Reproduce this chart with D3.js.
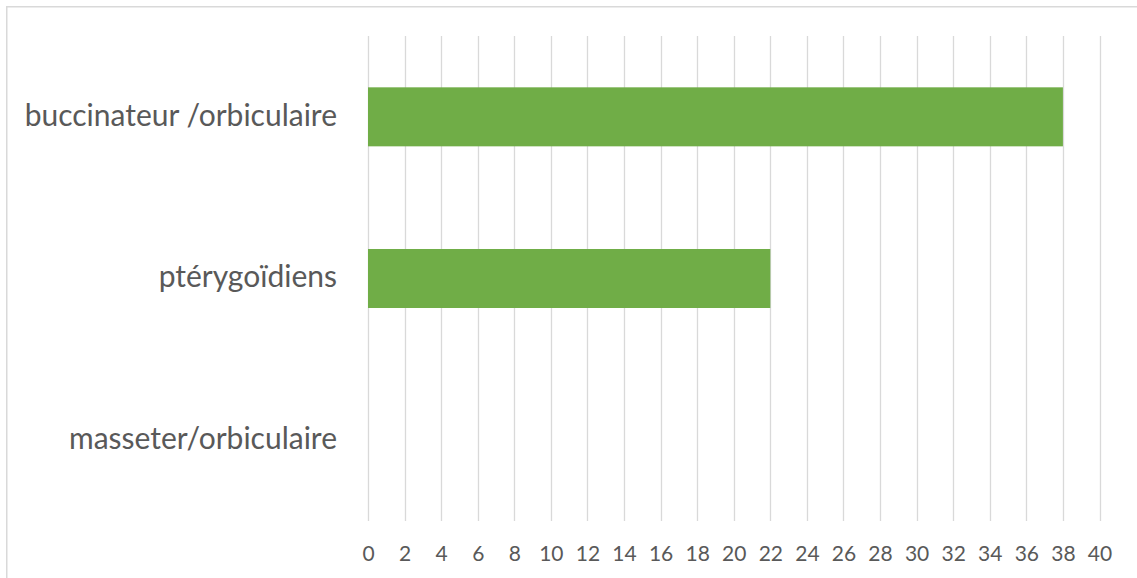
<!DOCTYPE html>
<html>
<head>
<meta charset="utf-8">
<script src="https://cdn.jsdelivr.net/npm/d3@7"></script>
<style>
  html, body { margin: 0; padding: 0; background: #fff; }
  svg { display: block; }
</style>
</head>
<body>
<svg id="chart" width="1137" height="578"></svg>
<script>
const categories = ["buccinateur /orbiculaire", "ptérygoïdiens", "masseter/orbiculaire"];
const values = [38, 22, 0];
const xTicks = [0, 2, 4, 6, 8, 10, 12, 14, 16, 18, 20, 22, 24, 26, 28, 30, 32, 34, 36, 38, 40];

(function () {
const svg = d3.select("#chart");
const W = 1137, H = 578;
const plotLeft = 368, plotRight = 1099.5, plotTop = 36, plotBottom = 521;
const textColor = "#595959";
const gridColor = "#d9d9d9";
const fontFam = "Lato, 'Open Sans', sans-serif";

// outer border
svg.append("rect")
  .attr("x", 6.75).attr("y", 6.75)
  .attr("width", W + 20).attr("height", H + 20)
  .attr("fill", "#fff")
  .attr("stroke", gridColor)
  .attr("stroke-width", 1.5);

const x = d3.scaleLinear().domain([0, 40]).range([plotLeft, plotRight]);
const y = d3.scaleBand().domain(categories).range([plotTop, plotBottom])
  .paddingInner(0.635).paddingOuter(0.635 / 2);

// gridlines
svg.append("g").selectAll("line").data(xTicks).join("line")
  .attr("x1", d => Math.round(x(d)) + 0.5).attr("x2", d => Math.round(x(d)) + 0.5)
  .attr("y1", plotTop).attr("y2", plotBottom)
  .attr("stroke", gridColor).attr("stroke-width", 1.3);

// bars
svg.append("g").selectAll("rect").data(categories).join("rect")
  .attr("x", x(0))
  .attr("y", d => y(d))
  .attr("width", (d, i) => x(values[i]) - x(0))
  .attr("height", y.bandwidth())
  .attr("fill", "#70AD47");

// x tick labels via axis
const xAxis = d3.axisBottom(x).tickValues(xTicks).tickSize(0).tickPadding(0).tickFormat(d3.format("d"));
const gx = svg.append("g").attr("transform", "translate(0, 545)").call(xAxis);
gx.select(".domain").remove();
gx.selectAll(".tick text")
  .attr("fill", textColor)
  .attr("font-family", fontFam)
  .attr("font-size", 21)
  .attr("y", 0)
  .attr("dy", "0.75em");

// category labels via axis
const yAxis = d3.axisLeft(y).tickSize(0).tickPadding(0);
const gy = svg.append("g").attr("transform", "translate(337, 0)").call(yAxis);
gy.select(".domain").remove();
gy.selectAll(".tick text")
  .attr("fill", textColor)
  .attr("font-family", fontFam)
  .attr("font-size", 30)
  .attr("x", 0)
  .attr("dy", "0.29em");
})();
</script>
</body>
</html>
